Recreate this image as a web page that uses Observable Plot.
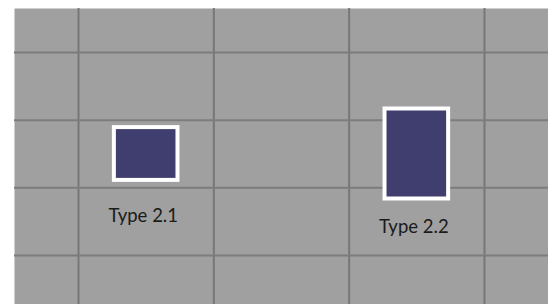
<!DOCTYPE html>
<html>
<head>
<meta charset="utf-8">
<script src="https://cdn.jsdelivr.net/npm/d3@7"></script>
<script src="https://cdn.jsdelivr.net/npm/@observablehq/plot@0.6"></script>
<style>
  html, body { margin: 0; padding: 0; background: #ffffff; }
  #chart svg { display: block; }
</style>
</head>
<body>
<div id="chart"></div>
<script>
// Data
const types = ["Type 2.1", "Type 2.2"];
const xs = [0.5, 2.5];
const ys = [1.5, 1.5];
const widths = [0.47, 0.47];
const heights = [0.78, 1.33];
const labelYs = [0.59, 0.425];
const gridTicks = [0, 1, 2, 3];

const data = types.map((t, i) => ({
  type: t,
  x: xs[i],
  y: ys[i],
  w: widths[i],
  h: heights[i],
  ly: labelYs[i]
}));

const chart = Plot.plot({
  width: 548,
  height: 304,
  marginLeft: 14,
  marginTop: 8,
  marginRight: 0,
  marginBottom: 0,
  style: { background: "transparent", fontFamily: "Lato, sans-serif" },
  x: { domain: [-0.473, 3.473], axis: null },
  y: { domain: [-0.724, 3.65], axis: null },
  marks: [
    Plot.frame({ fill: "#a0a0a0", stroke: "none" }),
    Plot.gridX(gridTicks, { stroke: "#777777", strokeOpacity: 1, strokeWidth: 2 }),
    Plot.gridY(gridTicks, { stroke: "#7c7c7c", strokeOpacity: 1, strokeWidth: 2 }),
    Plot.rect(data, {
      x1: d => d.x - d.w / 2,
      x2: d => d.x + d.w / 2,
      y1: d => d.y - d.h / 2,
      y2: d => d.y + d.h / 2,
      fill: "#403e6e",
      stroke: "#ffffff",
      strokeWidth: 4
    }),
    Plot.text(data, {
      x: "x",
      y: "ly",
      text: "type",
      dx: -3,
      fontSize: 18.5,
      fontFamily: "Lato, sans-serif",
      fill: "#1a1a1a"
    })
  ]
});

document.getElementById("chart").appendChild(chart);
</script>
</body>
</html>
